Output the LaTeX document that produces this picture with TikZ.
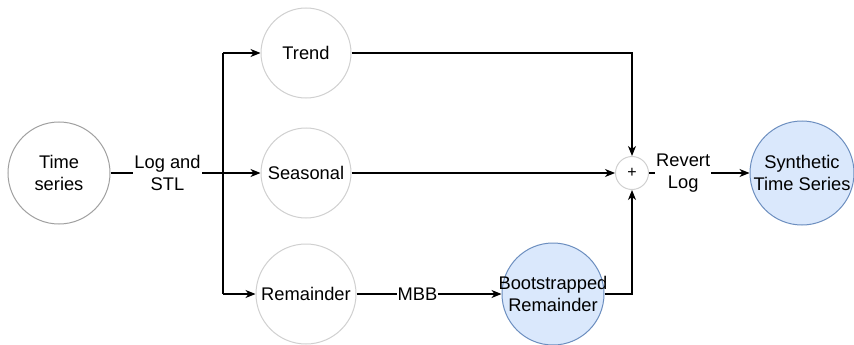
\documentclass[tikz,border=0pt]{standalone}
\usepackage{fontspec}
\setmainfont{Liberation Sans}
\usetikzlibrary{arrows.meta,positioning}
\definecolor{lightstroke}{HTML}{D0D0D0}
\definecolor{midstroke}{HTML}{A0A0A0}
\definecolor{bluefill}{HTML}{DAE8FC}
\definecolor{bluestroke}{HTML}{6C8EBF}
\tikzset{
  circ/.style={circle, draw=lightstroke, fill=white, line width=1pt, inner sep=0pt},
  bluecirc/.style={circ, draw=bluestroke, fill=bluefill},
  ctext/.style={label={[align=center, inner sep=0pt, font=\fontsize{18.3}{21.6}\selectfont]center:#1}},
  conn/.style={line width=1.2pt, draw=black},
  arr/.style={conn, -{Stealth[length=10pt,width=8pt,inset=3pt]}},
  elabel/.style={fill=white, inner sep=1pt, align=center, font=\fontsize{18.3}{21.6}\selectfont}
}
\begin{document}
\begin{tikzpicture}[x=1pt,y=-1pt]
\useasboundingbox (0,0) rectangle (854,345);
\node[circ, draw=midstroke, minimum size=102pt, ctext={Time\\series}] (ts) at (59,173) {};
\node[circ, minimum size=90pt, ctext={Trend}] (trend) at (306,53) {};
\node[circ, minimum size=90pt, ctext={Seasonal}] (seas) at (306,173) {};
\node[circ, minimum size=100pt, ctext={Remainder}] (rem) at (306,294) {};
\node[bluecirc, minimum size=102pt, ctext={Bootstrapped\\Remainder}] (boot) at (553,294) {};
\node[circ, minimum size=33pt, label={[inner sep=0pt, font=\fontsize{16}{18}\selectfont]center:+}] (plus) at (632,173) {};
\node[bluecirc, minimum size=104pt, ctext={Synthetic\\Time Series}] (syn) at (802,173) {};
\coordinate (jt) at (223,53);
\coordinate (jr) at (223,294);
\coordinate (tc) at (632,53);
\coordinate (bc) at (632,294);
% trunk
\draw[conn] (jt) -- (jr);
\draw[arr] (jt) -- (trend.west);
\draw[arr] (jr) -- (rem.west);
\draw[arr] (ts.east) -- node[elabel, pos=0.38] {Log and\\STL} (seas.west);
% to plus
\draw[arr] (trend.east) -- (tc) -- (plus.north);
\draw[arr] (seas.east) -- (plus.west);
\draw[arr] (boot.east) -- (bc) -- (plus.south);
\draw[arr] (rem.east) -- node[elabel, pos=0.42] {MBB} (boot.west);
\draw[arr] (plus.east) -- node[elabel, pos=0.34] {Revert\\Log} (syn.west);
\end{tikzpicture}
\end{document}
